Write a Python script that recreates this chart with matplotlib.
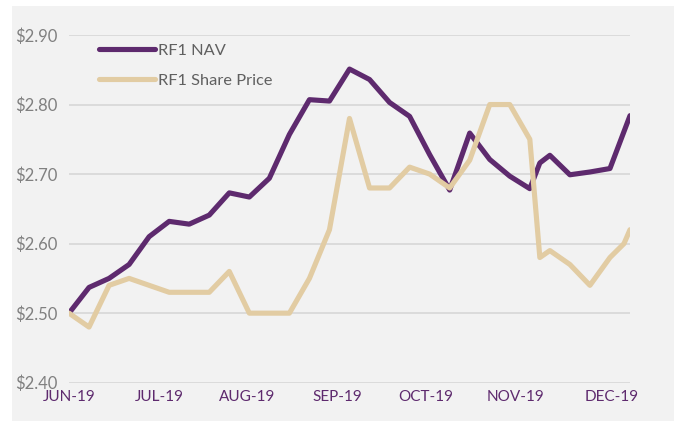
import numpy as np
import matplotlib
matplotlib.use('Agg')
import matplotlib.pyplot as plt
from matplotlib.patches import Rectangle

# weeks since start of series (a couple of off-week observations near the end)
nav_x = [0, 1, 2, 3, 4, 5, 6, 7, 8, 9, 10, 11, 12, 13, 14, 15, 16, 17, 18, 19,
         20, 21, 22, 23, 23.5, 24, 25, 26, 27, 28]
nav = [2.500, 2.537, 2.550, 2.570, 2.610, 2.632, 2.628, 2.641, 2.673, 2.667,
       2.694, 2.757, 2.807, 2.805, 2.851, 2.836, 2.803, 2.783, 2.728, 2.677,
       2.759, 2.721, 2.697, 2.679, 2.716, 2.727, 2.699, 2.703, 2.708, 2.784]

price_x = [0, 1, 2, 3, 4, 5, 6, 7, 8, 9, 10, 11, 12, 13, 14, 15, 16, 17, 18, 19,
           20, 21, 22, 23, 23.5, 24, 25, 26, 27, 27.7, 28]
price = [2.50, 2.48, 2.54, 2.55, 2.54, 2.53, 2.53, 2.53, 2.56, 2.50,
         2.50, 2.50, 2.55, 2.62, 2.78, 2.68, 2.68, 2.71, 2.70, 2.68,
         2.72, 2.80, 2.80, 2.75, 2.58, 2.59, 2.57, 2.54, 2.58, 2.60, 2.62]

month_labels = ['JUN-19', 'JUL-19', 'AUG-19', 'SEP-19', 'OCT-19', 'NOV-19', 'DEC-19']
month_pos = [0, 4.5, 8.9, 13.4, 17.8, 22.3, 27.1]
y_ticks = [2.40, 2.50, 2.60, 2.70, 2.80, 2.90]

purple = '#5e2a6e'
beige = '#e2cca3'

plt.rcParams['font.family'] = ['Lato', 'DejaVu Sans']

fig = plt.figure(figsize=(6.74, 4.21), dpi=100)
fig.patch.set_facecolor('white')
bg = Rectangle((12 / 674, 0), 1, 1 - 6 / 421, transform=fig.transFigure,
               facecolor='#f2f2f2', edgecolor='none', zorder=-10)
fig.add_artist(bg)

ax = fig.add_axes([69 / 674, 1 - 382.7 / 421, 561 / 674, 347.7 / 421])
ax.set_facecolor('none')
ax.set_zorder(1)

ax.plot(nav_x, nav, color=purple, lw=3.7, solid_joinstyle='round',
        solid_capstyle='round', label='RF1 NAV', zorder=3)
ax.plot(price_x, price, color=beige, lw=3.7, solid_joinstyle='round',
        solid_capstyle='round', label='RF1 Share Price', zorder=4)

ax.set_xlim(0, 28)
ax.set_ylim(2.40, 2.90)
ax.set_yticks(y_ticks)
ax.set_yticklabels(['$%.2f' % v for v in y_ticks])
ax.set_xticks(month_pos)
ax.set_xticklabels(month_labels)
ax.grid(axis='y', color='#d9d9d9', lw=1.3, zorder=1)
ax.set_axisbelow(True)
for s in ax.spines.values():
    s.set_visible(False)
ax.tick_params(axis='y', length=0, pad=8, labelsize=12, labelcolor='#808080')
ax.tick_params(axis='x', length=0, pad=5, labelsize=11, labelcolor=purple)

leg = ax.legend(loc='upper left', bbox_to_anchor=(91 / 674, 1 - 35 / 421),
                bbox_transform=fig.transFigure, frameon=False, fontsize=11.8,
                handlelength=3.4, handletextpad=0.2, labelspacing=0.95,
                borderpad=0)
for t in leg.get_texts():
    t.set_color('#606060')

fig.savefig('out.png', dpi=100)
